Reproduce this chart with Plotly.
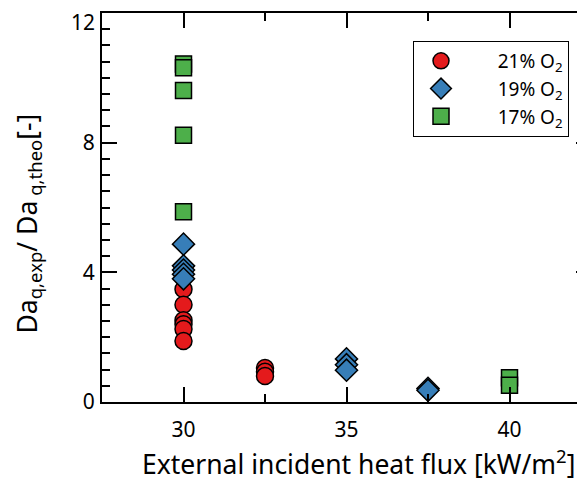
import plotly.graph_objects as go

# Data
x_21 = [30, 30, 30, 30, 30, 30, 32.5, 32.5, 32.5]
y_21 = [3.48, 3.0, 2.52, 2.4, 2.25, 1.88, 1.05, 0.93, 0.8]

x_19 = [30, 30, 30, 30, 30, 35, 35, 35, 37.5, 37.5]
y_19 = [4.87, 4.2, 4.07, 3.94, 3.8, 1.33, 1.15, 0.98, 0.42, 0.36]

x_17 = [30, 30, 30, 30, 30, 40, 40]
y_17 = [10.43, 10.31, 9.61, 8.23, 5.87, 0.75, 0.52]

NB = "\u00a0"
names = [NB * 6 + "21% O<sub>2</sub>", NB * 6 + "19% O<sub>2</sub>", NB * 6 + "17% O<sub>2</sub>"]
colors = ["#E41A1C", "#377EB8", "#4DAF4A"]
x_ticks = [30, 35, 40]
y_ticks = [0, 4, 8, 12]
y_ticktext = ["0", "4", "8", ""]   # top label drawn separately so it is not clipped
top_label = "12"

x_title = "External incident heat flux [kW/m<sup>2</sup>]"
y_title = "Da<sub>q,exp</sub>/ Da<sub> q,theo</sub>[-]"

FONT = "Noto Sans"

fig = go.Figure()
fig.add_trace(go.Scatter(x=x_21, y=y_21, mode="markers", name=names[0],
                         marker=dict(symbol="circle", size=17, color=colors[0],
                                     line=dict(color="black", width=1.5))))
fig.add_trace(go.Scatter(x=x_19, y=y_19, mode="markers", name=names[1],
                         marker=dict(symbol="diamond", size=17, color=colors[1],
                                     line=dict(color="black", width=1.5))))
fig.add_trace(go.Scatter(x=x_17, y=y_17, mode="markers", name=names[2],
                         marker=dict(symbol="square", size=16, color=colors[2],
                                     line=dict(color="black", width=1.5))))

fig.update_layout(
    width=585, height=484,
    margin=dict(l=94, r=2, t=5, b=90, autoexpand=False),
    paper_bgcolor="white", plot_bgcolor="white",
    font=dict(family=FONT, size=21, color="black"),
    showlegend=True,
    legend=dict(x=0.636, y=0.928, xanchor="left", yanchor="top",
                bordercolor="black", borderwidth=1, bgcolor="white",
                font=dict(family=FONT, size=19), itemwidth=44,
                tracegroupgap=0),
    xaxis=dict(range=[27.5, 42.5], tickvals=x_ticks, ticks="inside",
               ticklen=15, tickwidth=1.5, tickcolor="black",
               showline=True, linewidth=2, linecolor="black", mirror="ticks",
               showgrid=False, zeroline=False, ticklabelstandoff=8,
               automargin=False,
               minor=dict(dtick=2.5, tick0=27.5, ticks="inside", ticklen=8,
                          tickwidth=1.5, tickcolor="black", showgrid=False),
               tickfont=dict(size=21)),
    yaxis=dict(range=[0, 12], tickvals=y_ticks, ticktext=y_ticktext, ticks="inside",
               ticklen=15, tickwidth=1.5, tickcolor="black",
               showline=True, linewidth=2, linecolor="black", mirror="ticks",
               showgrid=False, zeroline=False, ticklabelstandoff=1,
               automargin=False,
               minor=dict(dtick=0.5, ticks="inside", ticklen=8,
                          tickwidth=1.5, tickcolor="black", showgrid=False),
               tickfont=dict(size=21)),
    annotations=[
        dict(text=top_label, xref="paper", yref="y", x=0, y=y_ticks[-1],
             xanchor="right", yanchor="top", xshift=-5, yshift=7, showarrow=False,
             font=dict(family=FONT, size=21)),
        dict(text=x_title, xref="paper", yref="paper", x=0.5245, y=-0.2108,
             xanchor="center", yanchor="bottom", showarrow=False,
             font=dict(family=FONT, size=26.5)),
        dict(text=y_title, xref="paper", yref="paper", x=-0.1513, y=0.4589,
             xanchor="center", yanchor="middle", showarrow=False, textangle=-90,
             font=dict(family=FONT, size=26.5)),
    ],
)

fig.write_html("out.html")
